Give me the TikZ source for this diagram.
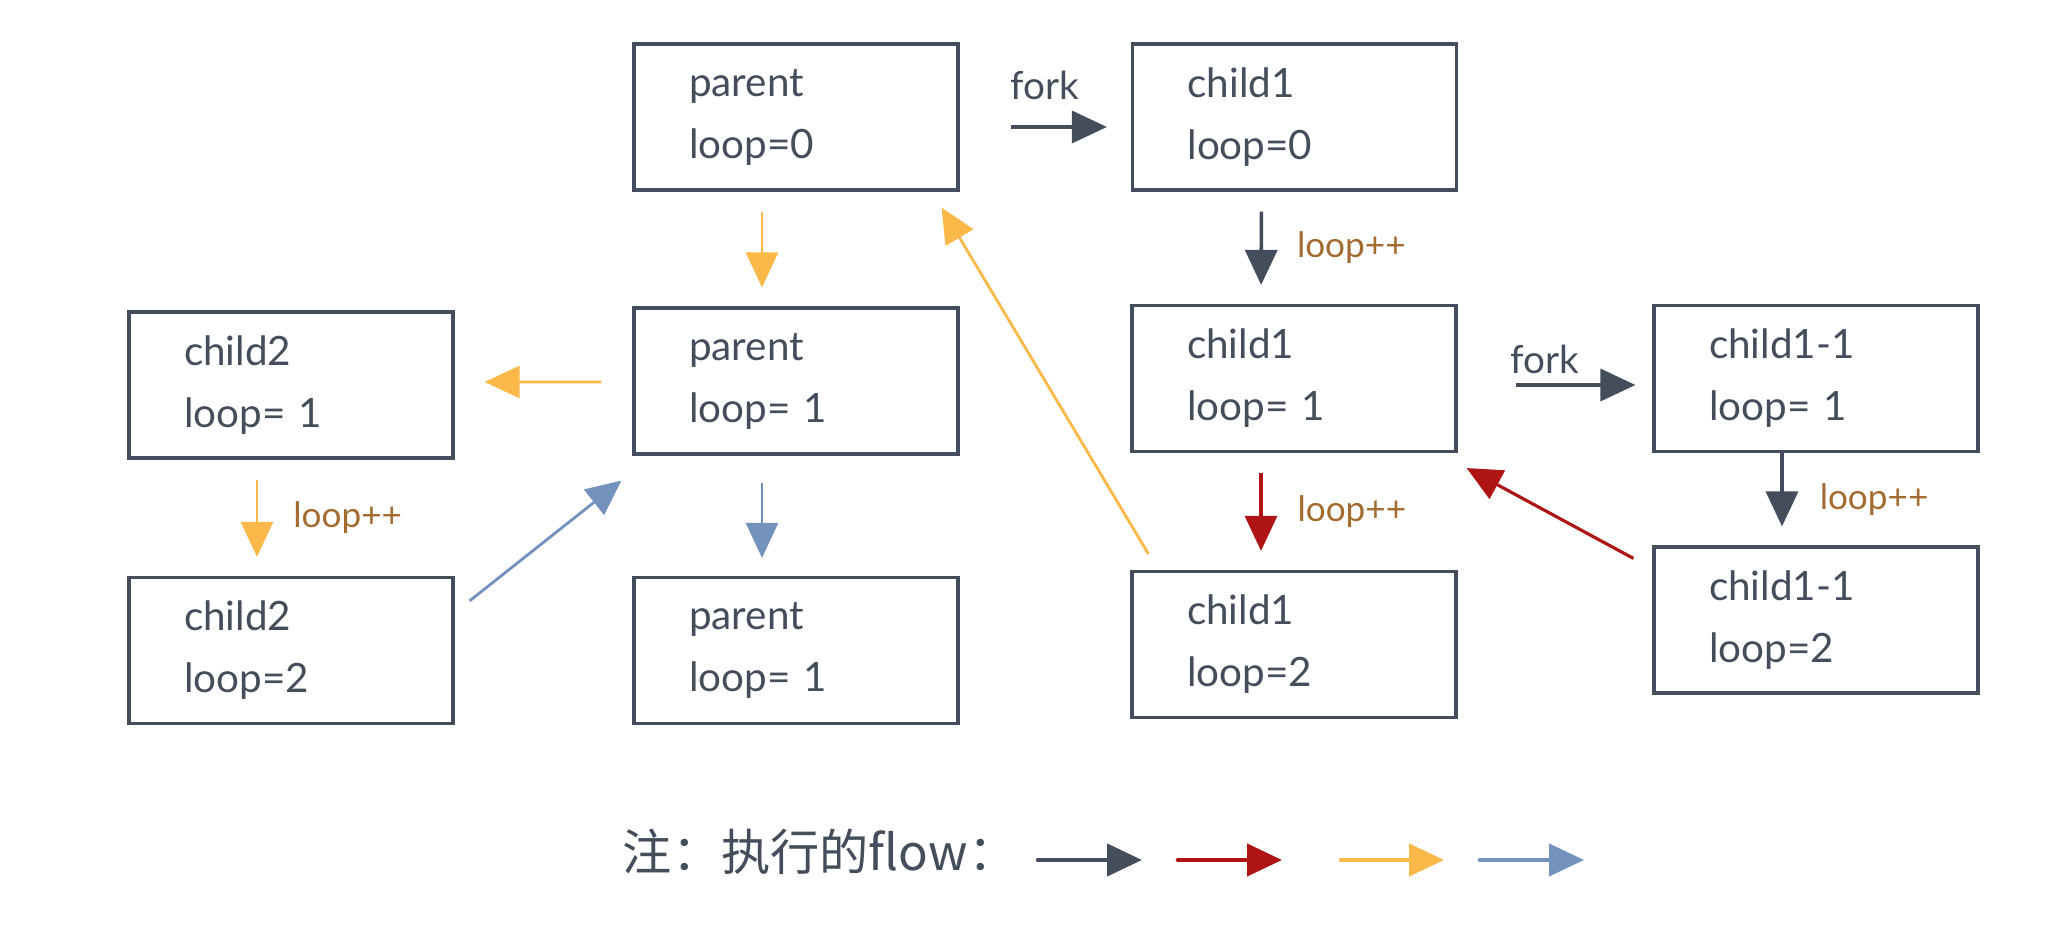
\documentclass[tikz,border=0pt]{standalone}
\usepackage{fontspec}
\setmainfont{Lato}
\newfontfamily\cjkfont{Noto Sans CJK SC}
\usetikzlibrary{arrows.meta, calc, positioning}
\definecolor{boxgray}{HTML}{434D5C}
\definecolor{flowred}{HTML}{B01516}
\definecolor{floworange}{HTML}{FDB84A}
\definecolor{flowblue}{HTML}{7392BD}
\definecolor{notebrown}{HTML}{A36B30}

\tikzset{
  procbox/.style={draw=boxgray, line width=0.9pt, rectangle, minimum width=3.24cm, minimum height=1.46cm,
    text width=2.14cm, inner xsep=0.55cm, inner ysep=0pt, align=left, text=boxgray,
    font=\fontsize{11.5}{17.6}\selectfont},
  flowtip/.style={-{Triangle[length=3.5mm,width=3.2mm]}},
  darkflow/.style={flowtip, draw=boxgray, fill=boxgray, line width=1pt},
  redflow/.style={flowtip, draw=flowred, fill=flowred, line width=0.9pt},
  orangeflow/.style={flowtip, draw=floworange, fill=floworange, line width=0.8pt},
  blueflow/.style={flowtip, draw=flowblue, fill=flowblue, line width=0.8pt},
  gap/.style={shorten <=2mm, shorten >=1.9mm},
  loopnote/.style={inner sep=0pt, text=notebrown, font=\fontsize{10}{12}\selectfont},
  forknote/.style={inner sep=0pt, text=boxgray, font=\fontsize{11}{13}\selectfont}
}

\begin{document}
\begin{tikzpicture}
\useasboundingbox (0,0) rectangle (20.48,9.47);

% process states
\node (p0)   [procbox] at (7.96,8.30)   {parent\\loop=0};
\node (c10)  [procbox] at (12.945,8.30) {child1\\loop=0};
\node (c21)  [procbox] at (2.91,5.62)   {child2\\loop= 1};
\node (p1)   [procbox] at (7.96,5.66)   {parent\\loop= 1};
\node (c11)  [procbox] at (12.94,5.685) {child1\\loop= 1};
\node (c111) [procbox] at (18.16,5.685) {child1-1\\loop= 1};
\node (c22)  [procbox] at (2.91,2.965)  {child2\\loop=2};
\node (p1b)  [procbox] at (7.96,2.965)  {parent\\loop= 1};
\node (c12)  [procbox] at (12.94,3.025) {child1\\loop=2};
\node (c112) [procbox] at (18.16,3.27)  {child1-1\\loop=2};

% fork
\draw[darkflow, shorten <=5.1mm, shorten >=2.4mm] ([yshift=-1mm]p0.east) -- node[midway, above=2.5mm, forknote] (fk1) {fork} ([yshift=-1mm]c10.west);
\draw[darkflow, shorten <=5.8mm, shorten >=1.7mm] ([yshift=-0.65mm]c11.east) -- node[midway, above=0.9mm, xshift=-1mm, forknote] (fk2) {fork} ([yshift=-0.65mm]c111.west);

% loop++
\draw[darkflow, gap] ([xshift=-3.3mm]c10.south) -- node[midway, right=3.4mm, loopnote] (lp1) {loop++} ([xshift=-3.3mm]c11.north);
\draw[redflow, gap] ([xshift=-3.3mm]c11.south) -- node[midway, right=3.5mm, loopnote] (lp2) {loop++} ([xshift=-3.3mm]c12.north);
\draw[orangeflow, gap] ([xshift=-3.4mm]c21.south) -- node[midway, right=3.5mm, loopnote] (lp3) {loop++} ([xshift=-3.4mm]c22.north);
\draw[darkflow, shorten >=1.9mm] ([xshift=-3.4mm]c111.south) -- node[midway, right=3.6mm, loopnote] (lp4) {loop++} ([xshift=-3.4mm]c112.north);

% parent flow
\draw[orangeflow, gap] ([xshift=-3.4mm]p0.south) -- ([xshift=-3.4mm]p1.north);
\draw[orangeflow, shorten <=3.1mm, shorten >=3mm] ([yshift=-0.1mm]p1.west) -- ([yshift=0.3mm]c21.east);
\draw[blueflow, shorten <=2.7mm, shorten >=1.8mm] ([xshift=-3.4mm]p1.south) -- ([xshift=-3.4mm]p1b.north);

% returns
\draw[orangeflow] ($(c12.north west)+(0.18,0.16)$) -- ($(p0.south east)+(-0.18,-0.16)$);
\draw[blueflow] ($(c22.north east)+(0.15,-0.25)$) -- ($(p1.south west)+(-0.11,-0.25)$);
\draw[redflow] ($(c112.north west)+(-0.19,-0.13)$) -- ($(c11.south east)+(0.09,-0.15)$);

% legend
\node (note) [text=boxgray, font=\cjkfont\fontsize{14}{16}\selectfont] at (8.2,0.95) {注：执行的flow：};
\coordinate (ld0) at (10.38,0.87);
\coordinate (ld1) at (11.42,0.87);
\coordinate (lr0) at (11.78,0.87);
\coordinate (lr1) at (12.82,0.87);
\coordinate (lo0) at (13.41,0.87);
\coordinate (lo1) at (14.44,0.87);
\coordinate (lb0) at (14.80,0.87);
\coordinate (lb1) at (15.84,0.87);
\draw[darkflow, line width=1.3pt, line cap=round] (ld0) -- (ld1);
\draw[redflow, line width=1.3pt, line cap=round] (lr0) -- (lr1);
\draw[orangeflow, line width=1.3pt, line cap=round] (lo0) -- (lo1);
\draw[blueflow, line width=1.3pt, line cap=round] (lb0) -- (lb1);
\end{tikzpicture}
\end{document}
